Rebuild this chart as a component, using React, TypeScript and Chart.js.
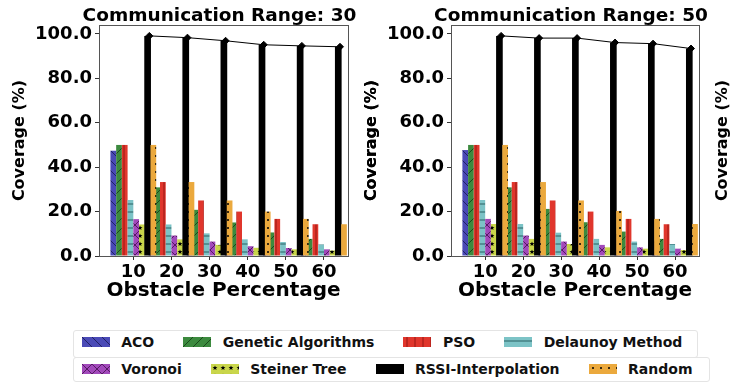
import React, { useEffect, useRef } from 'react';
import { Chart, registerables } from 'chart.js';

Chart.register(...registerables);

const FONT = "'DejaVu Sans', 'Liberation Sans', sans-serif";

// ---------- data ----------
const categories = ['10', '20', '30', '40', '50', '60'];
const yTicks = [0, 20, 40, 60, 80, 100];
const seriesNames = [
  'ACO',
  'Genetic Algorithms',
  'PSO',
  'Delaunoy Method',
  'Voronoi',
  'Steiner Tree',
  'RSSI-Interpolation',
  'Random',
];

// Communication range 30
const aco30 = [47.4, 29.5, 19.5, 14.0, 10.0, 7.0];
const ga30 = [50.0, 30.9, 20.8, 15.1, 10.6, 7.7];
const pso30 = [50.0, 33.3, 25.0, 20.0, 16.7, 14.3];
const delaunoy30 = [25.2, 14.2, 10.2, 7.5, 6.3, 5.2];
const voronoi30 = [16.6, 9.2, 6.5, 4.4, 3.6, 3.0];
const steiner30 = [14.2, 7.5, 5.0, 3.7, 3.0, 2.5];
const rssi30 = [99.1, 98.3, 96.9, 95.1, 94.6, 94.2];
const random30 = [50.0, 33.3, 25.0, 20.0, 16.7, 14.3];

// Communication range 50
const aco50 = [47.7, 29.5, 19.5, 14.0, 10.0, 7.0];
const ga50 = [50.0, 30.9, 21.2, 15.2, 11.0, 7.7];
const pso50 = [50.0, 33.3, 25.0, 20.0, 16.7, 14.3];
const delaunoy50 = [25.2, 14.4, 10.5, 7.7, 6.5, 5.4];
const voronoi50 = [16.7, 9.2, 6.5, 5.0, 3.9, 3.3];
const steiner50 = [14.4, 7.7, 5.4, 3.9, 3.3, 2.7];
const rssi50 = [99.1, 98.1, 98.1, 96.1, 95.6, 93.4];
const random50 = [50.0, 33.3, 25.0, 20.3, 16.7, 14.4];

const range30 = [aco30, ga30, pso30, delaunoy30, voronoi30, steiner30, rssi30, random30];
const range50 = [aco50, ga50, pso50, delaunoy50, voronoi50, steiner50, rssi50, random50];

// ---------- styles ----------
const fills = ['#4a4ab6', '#3c8a3e', '#e0362c', '#7cc3c6', '#a249bb', '#c9d64b', '#000000', '#eba93d'];
const inks = [
  'rgba(20,20,70,0.75)',
  'rgba(15,50,15,0.75)',
  'rgba(120,10,10,0.7)',
  'rgba(20,70,72,0.8)',
  'rgba(60,10,70,0.75)',
  '#000000',
  '#000000',
  '#000000',
];
const hatches = ['back', 'fwd', 'vert', 'horiz', 'cross', 'star', 'solid', 'dot'];
const LINE_SHIFT = 0.42;

function makePattern(kind: string, bg: string, ink: string): CanvasPattern | string {
  if (kind === 'solid') return bg;
  const s = kind === 'back' || kind === 'fwd' || kind === 'cross' ? 10 : 8;
  const c = document.createElement('canvas');
  c.width = s;
  c.height = s;
  const g = c.getContext('2d')!;
  g.fillStyle = bg;
  g.fillRect(0, 0, s, s);
  g.strokeStyle = ink;
  g.fillStyle = ink;
  g.lineWidth = 1;
  const line = (x1: number, y1: number, x2: number, y2: number) => {
    g.beginPath();
    g.moveTo(x1, y1);
    g.lineTo(x2, y2);
    g.stroke();
  };
  if (kind === 'back' || kind === 'cross') {
    for (const o of [-s, 0, s]) line(o, 0, o + s, s);
  }
  if (kind === 'fwd' || kind === 'cross') {
    for (const o of [-s, 0, s]) line(o, s, o + s, 0);
  }
  if (kind === 'vert') line(s / 2, 0, s / 2, s);
  if (kind === 'horiz') line(0, s / 2, s, s / 2);
  if (kind === 'dot') {
    g.beginPath();
    g.arc(s / 2, s / 2, 1, 0, Math.PI * 2);
    g.fill();
  }
  if (kind === 'star') {
    const cx = s / 2, cy = s / 2, R = 2.6, r = 1.1;
    g.beginPath();
    for (let k = 0; k < 10; k++) {
      const rad = k % 2 === 0 ? R : r;
      const a = -Math.PI / 2 + (k * Math.PI) / 5;
      const px = cx + rad * Math.cos(a);
      const py = cy + rad * Math.sin(a);
      if (k === 0) g.moveTo(px, py);
      else g.lineTo(px, py);
    }
    g.closePath();
    g.fill();
  }
  return g.createPattern(c, 'repeat')!;
}

// draw datasets in index order (later series on top, like matplotlib)
const forwardOrder = {
  id: 'forwardOrder',
  beforeDatasetsDraw(chart: any) {
    const a = chart.chartArea;
    const ctx = chart.ctx;
    ctx.save();
    ctx.beginPath();
    ctx.rect(a.left, a.top - 6, a.right - a.left, a.bottom - a.top + 6);
    ctx.clip();
    chart.getSortedVisibleDatasetMetas().forEach((m: any) => m.controller.draw());
    ctx.restore();
    return false;
  },
};

// frame, subplot title and twin-axis label
const frame = {
  id: 'frame',
  afterDraw(chart: any, _args: any, opts: any) {
    const a = chart.chartArea;
    const ctx = chart.ctx;
    ctx.save();
    ctx.strokeStyle = '#555';
    ctx.lineWidth = 1;
    ctx.strokeRect(Math.round(a.left) + 0.5, Math.round(a.top) + 0.5, Math.round(a.right - a.left), Math.round(a.bottom - a.top));

    ctx.fillStyle = '#000';
    ctx.font = `bold 18.5px ${FONT}`;
    ctx.textAlign = 'center';
    ctx.textBaseline = 'alphabetic';
    ctx.fillText(opts.title, (a.left + a.right) / 2 - 4, 20.5);

    ctx.translate(a.right + 24, (a.top + a.bottom) / 2);
    ctx.rotate(-Math.PI / 2);
    ctx.font = `bold 16px ${FONT}`;
    ctx.textBaseline = 'middle';
    ctx.fillText('Coverage (%)', 0, 0);
    ctx.restore();
  },
};

function buildConfig(title: string, series: number[][], rssi: number[]): any {
  const datasets: any[] = series.map((vals, i) => ({
    type: 'bar',
    label: seriesNames[i],
    data: vals.map((v, k) => ({ x: k, y: v })),
    backgroundColor: makePattern(hatches[i], fills[i], inks[i]),
    borderWidth: 0,
    categoryPercentage: 1.2,
    barPercentage: i === 6 ? 1.17 : 1.0,
  }));
  datasets.push({
    type: 'line',
    label: 'RSSI trend',
    data: rssi.map((v, k) => ({ x: k + LINE_SHIFT, y: v })),
    borderColor: '#000',
    borderWidth: 1,
    pointStyle: 'rectRot',
    pointRadius: 3.5,
    pointBackgroundColor: '#000',
    pointBorderColor: '#000',
    fill: false,
    tension: 0,
  });

  return {
    type: 'bar',
    data: { datasets },
    plugins: [forwardOrder, frame],
    options: {
      animation: false,
      responsive: false,
      maintainAspectRatio: false,
      layout: { padding: { left: 0, right: 36, top: 25, bottom: 0 } },
      plugins: {
        legend: { display: false },
        tooltip: { enabled: false },
        title: { display: false },
        frame: { title },
      },
      scales: {
        x: {
          type: 'linear',
          min: -0.9,
          max: 5.63,
          offset: false,
          afterBuildTicks: (s: any) => {
            s.ticks = categories.map((_, k) => ({ value: k }));
          },
          afterFit: (s: any) => {
            s.height = 50;
          },
          ticks: {
            callback: (v: any) => categories[v] ?? '',
            color: '#000',
            font: { family: FONT, size: 18, weight: 'bold' },
            padding: 2,
            maxRotation: 0,
            autoSkip: false,
          },
          grid: { offset: false, drawOnChartArea: false, drawTicks: true, tickLength: 4, color: '#333' },
          border: { display: false },
          title: {
            display: true,
            text: 'Obstacle Percentage',
            color: '#000',
            font: { family: FONT, size: 20, weight: 'bold' },
            padding: { top: 0, bottom: 3 },
          },
        },
        y: {
          type: 'linear',
          min: 0,
          max: 104,
          afterBuildTicks: (s: any) => {
            s.ticks = yTicks.map((v) => ({ value: v }));
          },
          afterFit: (s: any) => {
            s.width = 99;
          },
          ticks: {
            callback: (v: any) => Number(v).toFixed(1),
            color: '#000',
            font: { family: FONT, size: 18, weight: 'bold' },
            padding: 3,
          },
          grid: { drawOnChartArea: false, drawTicks: true, tickLength: 4, color: '#333' },
          border: { display: false },
          title: {
            display: true,
            text: 'Coverage (%)',
            color: '#000',
            font: { family: FONT, size: 16, weight: 'bold' },
            padding: { top: 10.4, bottom: 0 },
          },
        },
      },
    },
  };
}

function Panel({ title, series, rssi, left, width }: { title: string; series: number[][]; rssi: number[]; left: number; width: number }) {
  const ref = useRef<HTMLCanvasElement>(null);
  useEffect(() => {
    const chart = new Chart(ref.current!, buildConfig(title, series, rssi));
    return () => chart.destroy();
  }, []);
  return (
    <canvas
      ref={ref}
      width={width}
      height={306}
      style={{ position: 'absolute', left, top: 0, width, height: 306, display: 'block' }}
    />
  );
}

function Swatch({ index }: { index: number }) {
  const ref = useRef<HTMLCanvasElement>(null);
  useEffect(() => {
    const g = ref.current!.getContext('2d')!;
    g.fillStyle = makePattern(hatches[index], fills[index], inks[index]) as any;
    g.fillRect(0, 0, 28, 10);
  }, []);
  return <canvas ref={ref} width={28} height={10} style={{ width: 28, height: 10, display: 'block', marginRight: 11.5 }} />;
}

function LegendRow({ items, top, boxTop, boxHeight, boxWidth }: { items: number[]; top: number; boxTop: number; boxHeight: number; boxWidth: number }) {
  return (
    <>
      <div
        style={{
          position: 'absolute',
          left: 73,
          top: boxTop,
          width: boxWidth,
          height: boxHeight,
          border: '1px solid #e4e4e4',
          borderRadius: 3,
          boxSizing: 'border-box',
        }}
      />
      <div
        style={{
          position: 'absolute',
          left: 81.7,
          top,
          height: 20,
          display: 'flex',
          alignItems: 'center',
          whiteSpace: 'nowrap',
          font: `bold 14px ${FONT}`,
          color: '#111',
        }}
      >
        {items.map((i) => (
          <div key={i} style={{ display: 'flex', alignItems: 'center', marginRight: 29 }}>
            <Swatch index={i} />
            <span>{seriesNames[i]}</span>
          </div>
        ))}
      </div>
    </>
  );
}

export default function App() {
  return (
    <div style={{ position: 'absolute', left: 0, top: 0, width: 735, height: 383, overflow: 'hidden', background: '#fff' }}>
      <Panel title="Communication Range: 30" series={range30} rssi={rssi30} left={0} width={384} />
      <Panel title="Communication Range: 50" series={range50} rssi={rssi50} left={352} width={383} />
      <LegendRow items={[0, 1, 2, 3]} top={332} boxTop={330} boxHeight={28} boxWidth={625} />
      <LegendRow items={[4, 5, 6, 7]} top={358.5} boxTop={357} boxHeight={25} boxWidth={637} />
    </div>
  );
}
